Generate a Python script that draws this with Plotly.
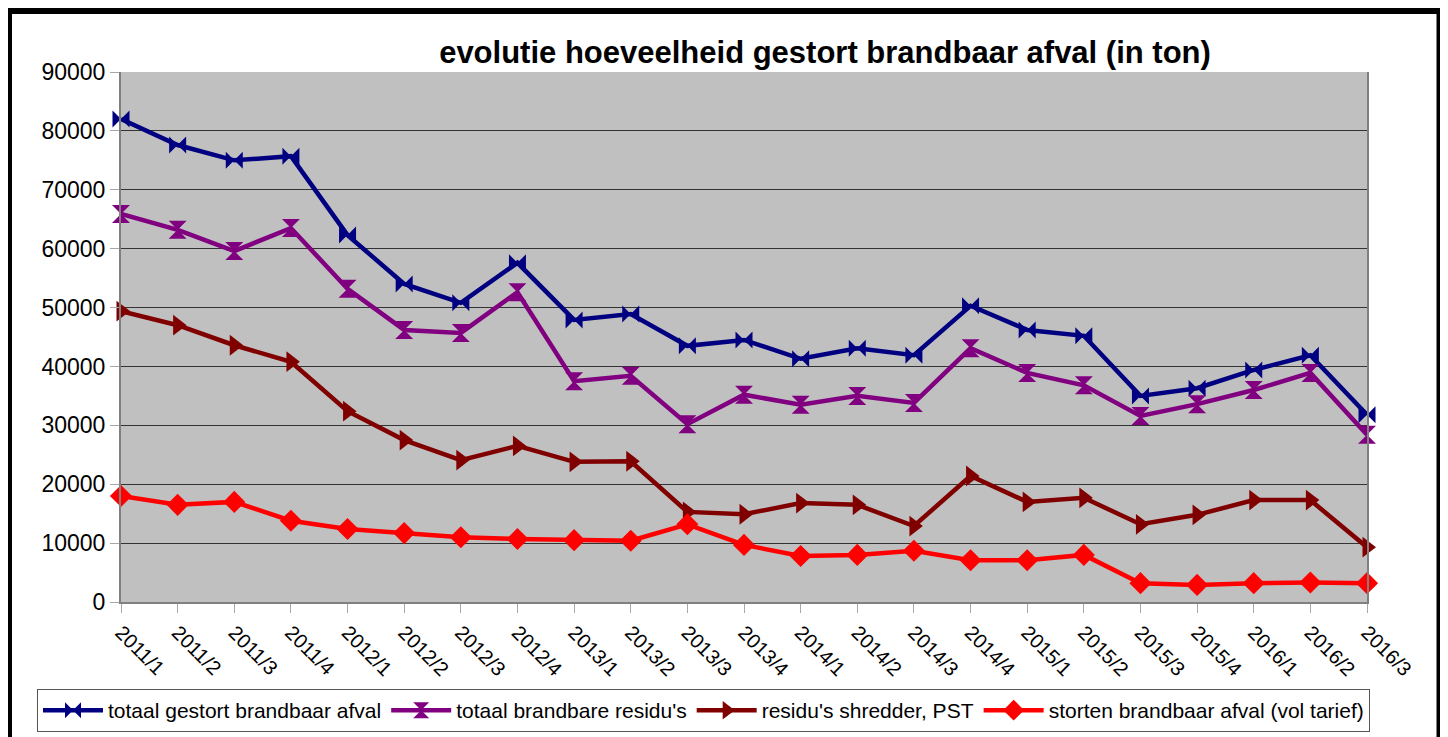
import plotly.graph_objects as go

categories = ["2011/1", "2011/2", "2011/3", "2011/4",
              "2012/1", "2012/2", "2012/3", "2012/4",
              "2013/1", "2013/2", "2013/3", "2013/4",
              "2014/1", "2014/2", "2014/3", "2014/4",
              "2015/1", "2015/2", "2015/3", "2015/4",
              "2016/1", "2016/2", "2016/3"]

totaal_gestort = [82000, 77600, 75000, 75700, 62300, 54000, 50800, 57600,
                  47900, 48900, 43500, 44500, 41300, 43100, 41900, 50300,
                  46200, 45200, 35000, 36300, 39400, 41900, 31800]

totaal_residus = [65900, 63200, 59600, 63500, 53200, 46200, 45700, 52600,
                  37500, 38400, 30200, 35200, 33500, 35000, 33800, 43100,
                  38900, 36800, 31600, 33600, 36000, 38900, 28400]

residus_shredder = [49400, 47000, 43600, 40800, 32400, 27500, 24100, 26500,
                    23800, 23900, 15300, 14900, 16800, 16500, 12900, 21400,
                    17000, 17700, 13200, 14800, 17300, 17300, 9300]

storten_vol = [18000, 16500, 17000, 13800, 12400, 11700, 11000, 10700,
               10500, 10400, 13200, 9700, 7800, 8000, 8700, 7100,
               7100, 8000, 3200, 2900, 3200, 3300, 3200]

series_names = ["totaal gestort brandbaar afval", "totaal brandbare residu's",
                "residu's shredder, PST", "storten brandbaar afval (vol tarief)"]

FONT = "Liberation Sans, Arial, sans-serif"
OFF = 8  # page body margin offset
W, H = 1440, 729
L, R, T, B = 121 - OFF, 81, 72 - OFF, 135
PW, PH = W - L - R, H - T - B


def px(x):
    # screen pixel -> paper x
    return (x - OFF - L) / PW


def py(y):
    # screen pixel -> paper y
    return (H - B - (y - OFF)) / PH


fig = go.Figure()
styles = [
    ("#000080", "bowtie", 17),
    ("#800080", "hourglass", 18),
    ("#800000", "triangle-right", 18),
    ("#FF0000", "diamond", 17),
]
for name, vals, (col, sym, sz) in zip(series_names,
                                      [totaal_gestort, totaal_residus, residus_shredder, storten_vol],
                                      styles):
    fig.add_trace(go.Scatter(
        x=categories, y=vals, name=name, mode="lines+markers",
        line=dict(color=col, width=4.5),
        marker=dict(symbol=sym, size=sz, color=col, line=dict(width=0)),
        cliponaxis=False,
    ))

fig.update_layout(
    width=W, height=H,
    margin=dict(l=L, r=R, t=T, b=B, autoexpand=False),
    paper_bgcolor="white",
    plot_bgcolor="#C0C0C0",
    font=dict(family=FONT, color="black"),
    title=dict(text="<b>evolutie hoeveelheid gestort brandbaar afval (in ton)</b>",
               x=px(825), xref="paper", xanchor="center",
               y=1 - (52 - OFF) / H, yanchor="middle",
               font=dict(size=31, family=FONT, color="black")),
    showlegend=True,
    legend=dict(orientation="h", x=px(37), xanchor="left", y=py(689), yanchor="top",
                bgcolor="white", bordercolor="#555555", borderwidth=1,
                font=dict(size=21, family=FONT, color="black"),
                itemwidth=60, tracegroupgap=0),
    shapes=[dict(type="rect", xref="paper", yref="paper",
                 x0=px(8.5), x1=px(1440), y0=py(760), y1=py(10.5),
                 line=dict(color="black", width=7), fillcolor="rgba(0,0,0,0)",
                 layer="above")],
)

fig.update_xaxes(
    type="category", range=[0, len(categories) - 1],
    showgrid=False, showline=True, linecolor="#808080", linewidth=2,
    ticks="outside", ticklen=9, tickcolor="#A8A8A8", tickwidth=1,
    tickangle=45, tickfont=dict(size=20, family=FONT, color="black"),
    zeroline=False,
)
fig.update_yaxes(
    range=[0, 90000], dtick=10000, tickformat="d",
    showgrid=True, gridcolor="#333333", gridwidth=1,
    showline=True, mirror=True, linecolor="#808080", linewidth=2,
    ticks="outside", ticklen=9, tickcolor="#A8A8A8", tickwidth=1,
    tickfont=dict(size=23, family=FONT, color="black"),
    zeroline=False,
)

fig.write_html("out.html")
